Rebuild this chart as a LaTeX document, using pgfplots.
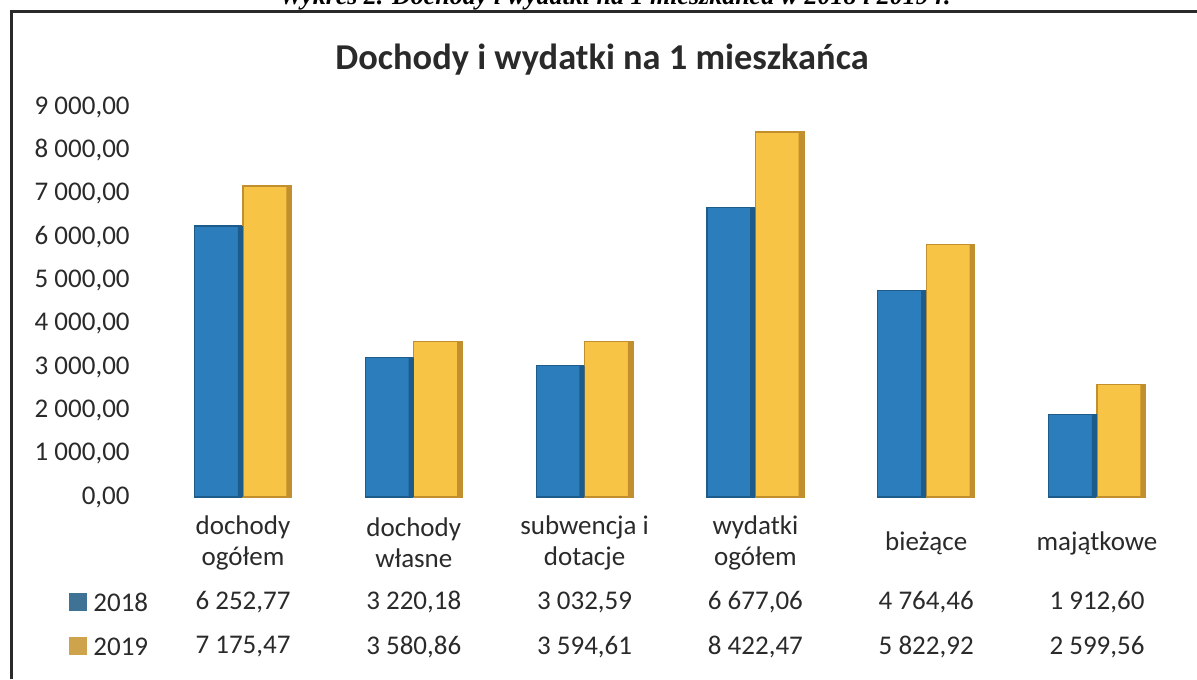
\documentclass[border=0pt]{standalone}
\usepackage{fontspec}
\setmainfont{Carlito}
\newfontfamily\capfont{Liberation Serif}
\usepackage{pgfplots}
\pgfplotsset{compat=1.18}

\definecolor{txt}{HTML}{2A2A2A}
\definecolor{b18}{HTML}{2B7DBB}
\definecolor{b18d}{HTML}{1D5C8A}
\definecolor{y19}{HTML}{F8C446}
\definecolor{y19d}{HTML}{C18F2E}
\definecolor{k18}{HTML}{3F7395}
\definecolor{k19}{HTML}{CFA24C}

\begin{document}
\begin{tikzpicture}[lbl/.style={font=\fontsize{13.5}{15.5}\selectfont, text=txt}]
\path[use as bounding box] (0,0) rectangle (598.5pt,339.5pt);
% scanned caption above the frame, mostly cut off
\node[anchor=base, font=\capfont\fontsize{13}{15}\selectfont\bfseries\itshape, inner sep=0pt]
  at (307.5pt,337.4pt) {Wykres 2. Dochody i wydatki na 1 mieszkańca w 2018 i 2019 r.};
% frame
\draw[line width=1.5pt, color=txt] (5.75pt,0pt) -- (5.75pt,333.75pt) -- (598.5pt,333.75pt);
% title
\node[font=\fontsize{18.2}{21}\selectfont\bfseries, text=txt] at (301pt,309.5pt)
  {Dochody i wydatki na 1 mieszkańca};

\pgfplotstableread{
x v18 v19
0 6252.77 7175.47
1 3220.18 3580.86
2 3032.59 3594.61
3 6677.06 8422.47
4 4764.46 5822.92
5 1912.60 2599.56
}\data

\begin{axis}[
  at={(78.8pt,91pt)}, anchor=south west,
  scale only axis, width=512.4pt, height=195pt,
  ybar, bar width=24.25pt,
  xmin=-0.5, xmax=5.5, ymin=0, ymax=9000,
  xtick={0,1,2,3,4,5},
  xticklabels={{dochody\\ogółem},{dochody\\własne},{subwencja i\\dotacje},{wydatki\\ogółem},{bieżące},{majątkowe}},
  xticklabel style={align=center, anchor=center, yshift=-23pt, lbl},
  ytick={0,1000,2000,3000,4000,5000,6000,7000,8000,9000},
  yticklabels={{0,00},{1 000,00},{2 000,00},{3 000,00},{4 000,00},{5 000,00},{6 000,00},{7 000,00},{8 000,00},{9 000,00}},
  yticklabel style={anchor=east, inner sep=0pt, xshift=-13.8pt, lbl},
  axis line style={draw=none},
  major tick length=0pt,
  clip=false,
]
\addplot[bar shift=-12.125pt, fill=b18, draw=b18d, line width=0.6pt] table[x=x, y=v18] {\data};
\addplot[bar shift=12.125pt, fill=y19, draw=y19d, line width=0.6pt] table[x=x, y=v19] {\data};
% darker right-hand bevel of each bar
\addplot[bar shift=-1.3pt, bar width=2.6pt, fill=b18d, draw=none] table[x=x, y=v18] {\data};
\addplot[bar shift=22.95pt, bar width=2.6pt, fill=y19d, draw=none] table[x=x, y=v19] {\data};

% data table under the categories
\node[lbl, yshift=-52.5pt] at (axis cs:0,0) {6 252,77};
\node[lbl, yshift=-52.5pt] at (axis cs:1,0) {3 220,18};
\node[lbl, yshift=-52.5pt] at (axis cs:2,0) {3 032,59};
\node[lbl, yshift=-52.5pt] at (axis cs:3,0) {6 677,06};
\node[lbl, yshift=-52.5pt] at (axis cs:4,0) {4 764,46};
\node[lbl, yshift=-52.5pt] at (axis cs:5,0) {1 912,60};
\node[lbl, yshift=-75pt] at (axis cs:0,0) {7 175,47};
\node[lbl, yshift=-75pt] at (axis cs:1,0) {3 580,86};
\node[lbl, yshift=-75pt] at (axis cs:2,0) {3 594,61};
\node[lbl, yshift=-75pt] at (axis cs:3,0) {8 422,47};
\node[lbl, yshift=-75pt] at (axis cs:4,0) {5 822,92};
\node[lbl, yshift=-75pt] at (axis cs:5,0) {2 599,56};
\end{axis}

% legend keys of the data table
\fill[k18] (34.5pt,34pt) rectangle (43.5pt,43pt);
\fill[k19] (34.5pt,12pt) rectangle (43.5pt,21pt);
\node[lbl, anchor=west, inner sep=0pt] at (46.5pt,38.5pt) {2018};
\node[lbl, anchor=west, inner sep=0pt] at (46.5pt,16pt) {2019};
\end{tikzpicture}
\end{document}
